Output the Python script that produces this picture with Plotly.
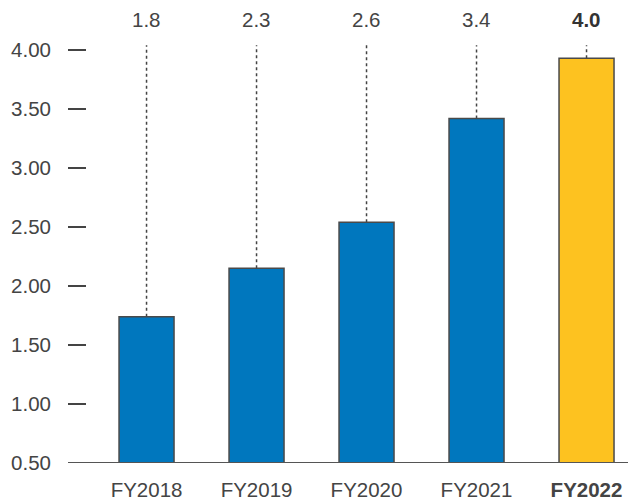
import plotly.graph_objects as go

categories = ["FY2018", "FY2019", "FY2020", "FY2021", "FY2022"]
bar_values = [1.74, 2.15, 2.54, 3.42, 3.93]
top_labels = ["1.8", "2.3", "2.6", "3.4", "4.0"]
tick_vals = [0.5, 1.0, 1.5, 2.0, 2.5, 3.0, 3.5, 4.0]
tick_text = ["0.50", "1.00", "1.50", "2.00", "2.50", "3.00", "3.50", "4.00"]

BLUE = "#0077BE"
YELLOW = "#FDC220"
colors = [BLUE] * 4 + [YELLOW]
FONT = "Liberation Sans, Arial, Helvetica, sans-serif"
TXT = "#444444"
FS = 20.5

fig = go.Figure()
fig.add_trace(go.Bar(
    x=list(range(len(categories))), y=[v - 0.5 for v in bar_values], base=0.5,
    marker=dict(color=colors, line=dict(color="#4a4a4a", width=1.5)),
    width=0.5, hoverinfo="skip",
))

label_y = 4.26
line_top = 4.04
for i, (c, v, t) in enumerate(zip(categories, bar_values, top_labels)):
    bold = i == len(categories) - 1
    fig.add_shape(type="line", x0=i, x1=i, y0=v, y1=line_top, xref="x", yref="y",
                  line=dict(color="#444444", width=1.5, dash="dot"), layer="below")
    fig.add_annotation(x=i, y=label_y, xref="x", yref="y", text=f"<b>{t}</b>" if bold else t,
                       showarrow=False, font=dict(family=FONT, size=FS, color="#333333" if bold else TXT))

fig.update_layout(
    width=628, height=502,
    margin=dict(l=68, r=0, t=0, b=39),
    plot_bgcolor="white", paper_bgcolor="white",
    showlegend=False,
    font=dict(family=FONT, size=FS, color=TXT),
    xaxis=dict(
        range=[-0.714, 4.377], showgrid=False, zeroline=False,
        showline=False, ticks="",
        tickvals=list(range(len(categories))),
        ticktext=[c if i < 4 else f"<b>{c}</b>" for i, c in enumerate(categories)],
        ticklabelstandoff=12, ticklabeloverflow="allow",
        tickfont=dict(family=FONT, size=FS, color=TXT),
    ),
    yaxis=dict(
        range=[0.5, 4.424], showgrid=False, zeroline=False, showline=False,
        tickvals=tick_vals, ticktext=tick_text,
        ticks="inside", ticklen=18, tickwidth=1.5, tickcolor="#444444",
        ticklabelstandoff=16,
        tickfont=dict(family=FONT, size=FS, color=TXT),
    ),
)
fig.add_shape(type="line", xref="paper", yref="y", x0=0, x1=1, y0=0.5, y1=0.5,
              line=dict(color="#555555", width=2))

fig.write_html("out.html", config={"displayModeBar": False},
               post_script="document.body.style.margin='0';document.body.style.overflow='hidden';")
